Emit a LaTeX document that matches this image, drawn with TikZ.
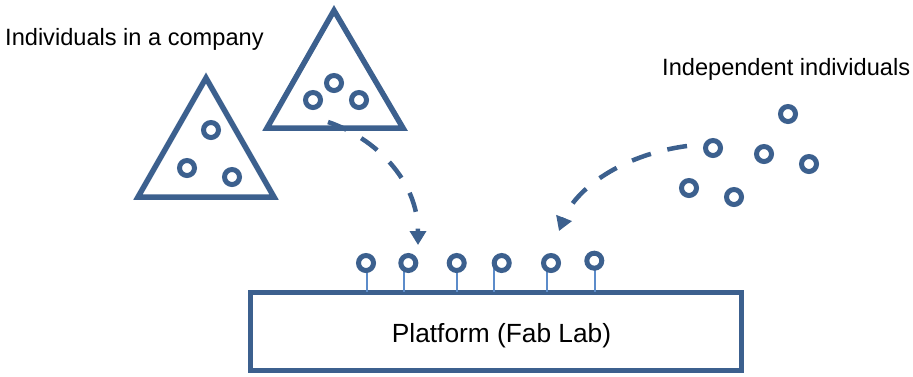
\documentclass[tikz,border=0pt]{standalone}
\usepackage{fontspec}
\setmainfont{Liberation Sans}
\usetikzlibrary{arrows.meta}
\definecolor{navy}{RGB}{60,96,142}
\definecolor{stemblue}{RGB}{92,140,202}
\tikzset{
  person/.style={circle, draw=navy, fill=white, line width=5pt, minimum size=15pt, inner sep=0pt},
  group/.style={draw=navy, line width=5.5pt, line join=miter},
  platbox/.style={draw=navy, line width=5pt},
  stem/.style={draw=stemblue, line width=2pt},
  flow/.style={draw=navy, line width=4.5pt, dash pattern=on 20pt off 17pt,
    -{Triangle[length=14pt,width=16pt]}},
  label/.style={anchor=base west, inner sep=0pt, font=\fontsize{23.6}{28}\selectfont}
}
\begin{document}
\begin{tikzpicture}[x=1pt, y=-1pt]
\useasboundingbox (0,0) rectangle (913,376);

% labels
\node[label] (lcomp) at (5,45) {Individuals in a company};
\node[label] (lind) at (662,75) {Independent individuals};

% company groups
\draw[group] (138,197) -- (206,78) -- (274,197) -- cycle;
\draw[group] (267,128) -- (334,10.5) -- (403,128) -- cycle;
\node[person] (a1) at (211,130) {};
\node[person] (a2) at (187,168) {};
\node[person] (a3) at (232,177) {};
\node[person] (b1) at (334,83) {};
\node[person] (b2) at (313,100) {};
\node[person] (b3) at (359,100) {};

% independent individuals
\node[person] (p1) at (713,148) {};
\node[person] (p2) at (788,114) {};
\node[person] (p3) at (764,154) {};
\node[person] (p4) at (809,164) {};
\node[person] (p5) at (689,188) {};
\node[person] (p6) at (734,197) {};

% platform
\node[platbox, minimum width=491.5pt, minimum height=78.5pt, inner sep=0pt]
  (plat) at (495.75,331.25) {};
\node[anchor=base, inner sep=0pt, font=\fontsize{26.3}{30}\selectfont]
  (ptext) at (501.5,342) {Platform (Fab Lab)};

% members attached to the platform
\coordinate (s1) at (367,292);
\coordinate (s2) at (404,292);
\coordinate (s3) at (457,292);
\coordinate (s4) at (494,292);
\coordinate (s5) at (547,292);
\coordinate (s6) at (595,292);
\foreach \i/\x/\y in {1/366/263, 2/408.3/263, 3/456.7/263, 4/501.7/263, 5/551/263, 6/594.3/260.7}{
  \draw[stem] (s\i) -- ++(0,-24);
  \node[person] (c\i) at (\x,\y) {};
}

% flows onto the platform
\coordinate (f1s) at (328,122);
\coordinate (f1e) at (418,245);
\coordinate (f2s) at (687,146);
\coordinate (f2e) at (559,231);
\draw[flow] (f1s) .. controls (375,138) and (418,180) .. (f1e);
\draw[flow] (f2s) .. controls (620,155) and (575,190) .. (f2e);
\end{tikzpicture}
\end{document}
